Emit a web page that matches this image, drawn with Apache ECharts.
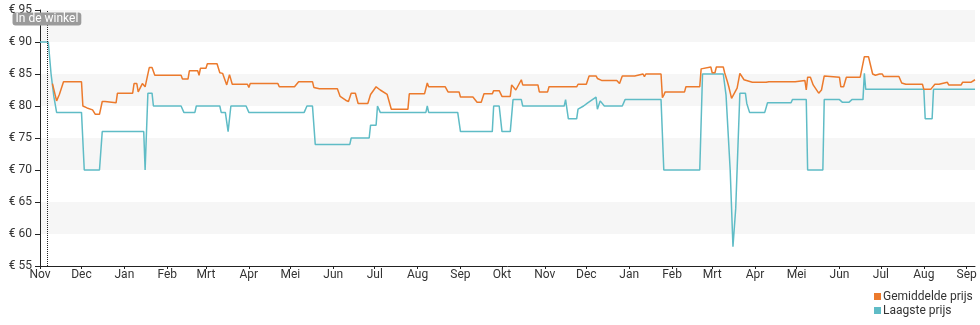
<!DOCTYPE html>
<html>
<head>
<meta charset="utf-8">
<script src="https://cdn.jsdelivr.net/npm/echarts@6/dist/echarts.min.js"></script>
<style>
  html, body { margin: 0; padding: 0; background: #fff; }
  #chart { width: 980px; height: 325px; }
</style>
</head>
<body>
<div id="chart"></div>
<script>
// Month names shown on the time axis
const monthLabels = ['Jan', 'Feb', 'Mrt', 'Apr', 'Mei', 'Jun', 'Jul', 'Aug', 'Sep', 'Okt', 'Nov', 'Dec'];

// Price ticks (euro)
const priceTicks = [55, 60, 65, 70, 75, 80, 85, 90, 95];

// Date the product arrived in the shop
const inStoreDate = '2022-11-06';

// Average price over time
const avgDates = [
  '2022-11-10','2022-11-13','2022-11-15','2022-11-18','2022-12-01','2022-12-02','2022-12-05','2022-12-09','2022-12-11','2022-12-14',
  '2022-12-16','2022-12-18','2022-12-19','2022-12-26','2022-12-27','2023-01-07','2023-01-08','2023-01-10','2023-01-11','2023-01-14',
  '2023-01-16','2023-01-19','2023-01-21','2023-01-23','2023-02-11','2023-02-12','2023-02-16','2023-02-17','2023-02-23','2023-02-24',
  '2023-02-25','2023-03-01','2023-03-02','2023-03-09','2023-03-11','2023-03-13','2023-03-16','2023-03-18','2023-03-20','2023-03-31',
  '2023-04-01','2023-04-02','2023-04-22','2023-04-23','2023-05-04','2023-05-07','2023-05-17','2023-05-18','2023-05-22','2023-06-04',
  '2023-06-06','2023-06-10','2023-06-12','2023-06-14','2023-06-17','2023-06-19','2023-06-26','2023-06-28','2023-07-02','2023-07-05',
  '2023-07-10','2023-07-13','2023-07-25','2023-07-26','2023-08-06','2023-08-08','2023-08-09','2023-08-21','2023-08-23','2023-08-31',
  '2023-09-01','2023-09-10','2023-09-13','2023-09-16','2023-09-18','2023-09-24','2023-09-25','2023-09-29','2023-10-01','2023-10-07',
  '2023-10-08','2023-10-11','2023-10-15','2023-10-16','2023-10-27','2023-10-28','2023-11-03','2023-11-04','2023-11-24','2023-11-25',
  '2023-12-01','2023-12-03','2023-12-08','2023-12-09','2023-12-12','2023-12-23','2023-12-25','2023-12-27','2024-01-05','2024-01-06',
  '2024-01-11','2024-01-12','2024-01-13','2024-01-24','2024-01-25','2024-01-26','2024-01-27','2024-02-10','2024-02-11','2024-02-21',
  '2024-02-22','2024-02-23','2024-02-29','2024-03-01','2024-03-03','2024-03-04','2024-03-09','2024-03-10','2024-03-12','2024-03-13',
  '2024-03-15','2024-03-16','2024-03-19','2024-03-21','2024-03-24','2024-03-30','2024-04-09','2024-04-11','2024-04-30','2024-05-07',
  '2024-05-08','2024-05-09','2024-05-11','2024-05-13','2024-05-17','2024-05-19','2024-05-21','2024-06-01','2024-06-02','2024-06-04',
  '2024-06-06','2024-06-16','2024-06-19','2024-06-22','2024-06-25','2024-06-27','2024-06-30','2024-07-02','2024-07-03','2024-07-14',
  '2024-07-16','2024-07-19','2024-07-31','2024-08-01','2024-08-06','2024-08-09','2024-08-12','2024-08-13','2024-08-18','2024-08-19',
  '2024-08-28','2024-08-29','2024-09-04','2024-09-07'
];
const avgPrices = [
  83.5,80.8,81.8,83.8,83.8,80.0,79.7,79.4,78.7,78.7,
  80.7,80.7,80.5,80.5,82.0,82.0,83.5,83.5,82.2,83.5,
  83.0,86.0,86.0,84.8,84.8,84.2,84.2,85.5,85.5,84.8,
  85.9,85.9,86.6,86.6,85.2,85.1,83.3,84.9,83.4,83.4,
  82.9,83.5,83.5,83.0,83.0,83.8,83.8,82.9,82.7,82.7,
  81.5,80.9,80.7,82.0,82.0,80.4,80.4,81.8,83.0,82.5,
  81.8,79.5,79.5,81.9,81.9,83.6,83.0,83.0,82.2,82.2,
  81.4,81.4,80.6,80.6,81.9,81.9,82.4,82.4,81.5,81.5,
  83.3,82.5,84.1,83.3,83.3,82.2,82.2,83.0,83.0,83.4,
  83.4,84.7,84.7,84.3,84.0,84.0,83.5,84.7,84.7,85.0,
  85.0,84.6,85.0,85.0,81.3,81.7,82.2,82.2,83.0,83.0,
  85.8,86.1,86.1,85.2,85.2,86.1,86.1,85.2,83.8,83.0,
  81.2,81.2,82.8,85.1,84.1,83.7,83.7,83.8,83.8,84.0,
  82.5,84.5,84.5,83.3,82.0,82.5,84.7,84.5,83.0,83.0,
  84.5,84.5,87.7,87.7,85.0,84.8,85.0,85.0,84.6,84.6,
  83.6,83.4,83.4,82.6,82.6,83.4,83.4,83.7,83.7,83.3,
  83.3,83.7,83.7,84.1
];

// Lowest price over time
const lowDates = [
  '2022-11-01','2022-11-07','2022-11-09','2022-11-10','2022-11-11','2022-11-13','2022-12-01','2022-12-03','2022-12-14','2022-12-16',
  '2023-01-15','2023-01-16','2023-01-17','2023-01-18','2023-01-21','2023-01-22','2023-02-11','2023-02-13','2023-02-21','2023-02-22',
  '2023-03-11','2023-03-12','2023-03-15','2023-03-17','2023-03-19','2023-03-30','2023-04-01','2023-05-11','2023-05-13','2023-05-17',
  '2023-05-19','2023-06-13','2023-06-14','2023-06-27','2023-06-28','2023-07-02','2023-07-03','2023-07-05','2023-08-07','2023-08-08',
  '2023-08-09','2023-08-30','2023-09-01','2023-09-24','2023-09-25','2023-09-29','2023-10-01','2023-10-07','2023-10-09','2023-10-15',
  '2023-10-16','2023-11-15','2023-11-16','2023-11-18','2023-11-24','2023-11-25','2023-11-29','2023-12-02','2023-12-08','2023-12-09',
  '2023-12-11','2023-12-14','2023-12-27','2023-12-29','2024-01-24','2024-01-26','2024-02-21','2024-02-23','2024-03-09','2024-03-11',
  '2024-03-14','2024-03-16','2024-03-18','2024-03-19','2024-03-21','2024-03-25','2024-03-26','2024-03-28','2024-04-08','2024-04-10',
  '2024-04-27','2024-04-28','2024-05-08','2024-05-09','2024-05-20','2024-05-21','2024-06-01','2024-06-03','2024-06-08','2024-06-10',
  '2024-06-18','2024-06-19','2024-06-20','2024-08-01','2024-08-02','2024-08-07','2024-08-08','2024-09-07'
];
const lowPrices = [
  90,90,85,85,81.5,79,79,70,70,76,
  76,70,70,82,82,80,80,79,79,80,
  80,79,79,76,80,80,79,79,80,80,
  74,74,75,75,77,77,80,79,79,80,
  79,79,76,76,80,80,76,76,81,81,
  80,80,81,78,78,79.5,80,80.5,81.4,79.5,
  80.8,80,80,81,81,70,70,85,85,81.7,
  70,58,64,64,82,82,80.4,79,79,80.5,
  80.5,81,81,70,70,81,81,80.6,80.6,81,
  81,85.1,82.6,82.6,78,78,82.6,82.6
];

const zip = (xs, ys) => xs.map((x, i) => [x, ys[i]]);

const chart = echarts.init(document.getElementById('chart'), null, { renderer: 'canvas' });

chart.setOption({
  animation: false,
  textStyle: { fontFamily: 'Roboto, sans-serif' },
  grid: { left: 40, right: 5, top: 10, bottom: 59, containLabel: false },
  legend: {
    orient: 'vertical',
    left: 874,
    top: 290,
    padding: 0,
    align: 'left',
    icon: 'rect',
    itemWidth: 7,
    itemHeight: 7,
    itemGap: 1,
    textStyle: { fontSize: 12, color: '#333', lineHeight: 13, padding: [0, 0, 0, -3] },
    data: ['Gemiddelde prijs', 'Laagste prijs']
  },
  xAxis: {
    type: 'time',
    min: '2022-11-01',
    max: '2024-09-07',
    minInterval: 28 * 864e5,
    maxInterval: 31 * 864e5,
    axisLine: { lineStyle: { color: '#222', width: 1 } },
    axisTick: { show: true, length: 3, lineStyle: { color: '#222' } },
    axisLabel: {
      color: '#333',
      fontSize: 12,
      margin: 3,
      hideOverlap: false,
      formatter: (v) => monthLabels[new Date(v).getMonth()]
    },
    splitLine: { show: false }
  },
  yAxis: {
    type: 'value',
    min: priceTicks[0],
    max: priceTicks[priceTicks.length - 1],
    interval: 5,
    axisLine: { show: true, lineStyle: { color: '#222', width: 1 } },
    axisTick: { show: true, length: 5, lineStyle: { color: '#222' } },
    axisLabel: { color: '#333', fontSize: 12, margin: 8, formatter: '€ {value}' },
    splitLine: { show: false },
    splitArea: { show: true, areaStyle: { color: ['rgba(255,255,255,0)', '#f6f6f6'] } }
  },
  series: [
    {
      name: 'Gemiddelde prijs',
      type: 'line',
      data: zip(avgDates, avgPrices),
      showSymbol: false,
      symbol: 'none',
      color: '#ec7a2c',
      lineStyle: { width: 1.5, color: '#ec7a2c' },
      z: 3
    },
    {
      name: 'Laagste prijs',
      type: 'line',
      data: zip(lowDates, lowPrices),
      showSymbol: false,
      symbol: 'none',
      color: '#5fbcc6',
      lineStyle: { width: 1.5, color: '#5fbcc6' },
      z: 2,
      markLine: {
        silent: true,
        symbol: ['none', 'none'],
        lineStyle: { type: 'dotted', color: '#222', width: 1 },
        label: { show: false },
        data: [{ xAxis: inStoreDate }]
      },
      markPoint: {
        silent: true,
        symbol: 'rect',
        symbolSize: 0,
        data: [{ coord: [inStoreDate, 93.6] }],
        label: {
          show: true,
          position: 'inside',
          formatter: 'In de winkel',
          color: '#fff',
          fontSize: 12,
          backgroundColor: '#9b9b9b',
          borderRadius: 3,
          padding: [1, 3, 0, 3]
        }
      }
    }
  ]
});
</script>
</body>
</html>
